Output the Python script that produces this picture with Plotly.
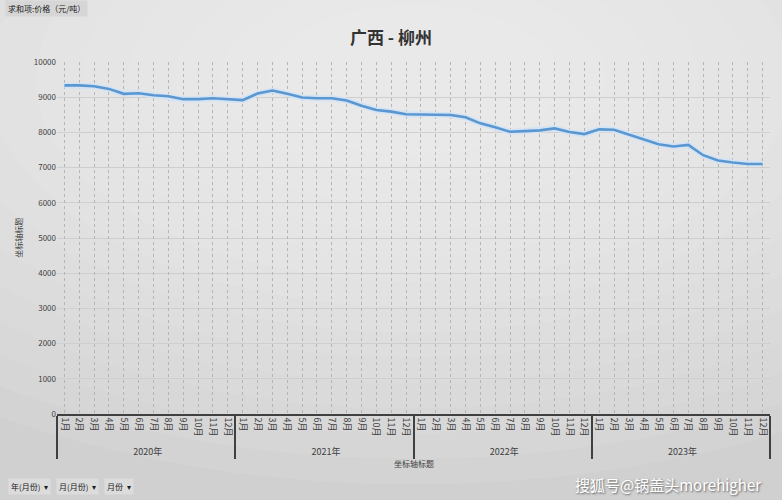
import plotly.graph_objects as go

years = ["2020年", "2021年", "2022年", "2023年"]
months = ["1月", "2月", "3月", "4月", "5月", "6月", "7月", "8月", "9月", "10月", "11月", "12月"]
price_2020 = [9337, 9337, 9309, 9236, 9096, 9112, 9056, 9028, 8944, 8944, 8972, 8935]
price_2021 = [8916, 9104, 9188, 9096, 8992, 8972, 8972, 8907, 8758, 8635, 8590, 8515]
price_2022 = [8514, 8514, 8494, 8428, 8257, 8143, 8018, 8037, 8057, 8114, 8009, 7952]
price_2023 = [8086, 8076, 7943, 7818, 7666, 7600, 7646, 7352, 7200, 7143, 7103, 7103]
y_ticks = [0, 1000, 2000, 3000, 4000, 5000, 6000, 7000, 8000, 9000, 10000]

title_text = "广西 - 柳州"
axis_title = "坐标轴标题"
field_button = "求和项:价格（元/吨）"
filter_buttons = ["年(月份)  ▾", "月(月份)  ▾", "月份  ▾"]
watermark = "搜狐号@锅盖头morehigher"

series = price_2020 + price_2021 + price_2022 + price_2023
x_years = [y for y in years for _ in months]
x_months = [m for _ in years for m in months]
n_points = len(series)
point_index = list(range(n_points))

FONT = "Noto Sans CJK SC, Microsoft YaHei, sans-serif"

fig = go.Figure()
fig.add_trace(go.Scatter(
    x=[x_years, x_months], y=series, mode="lines",
    line=dict(color="#d3e3f4", width=6), hoverinfo="skip", showlegend=False,
))
fig.add_trace(go.Scatter(
    x=[x_years, x_months], y=series, mode="lines",
    line=dict(color="#5a97d0", width=2.6), showlegend=False,
))

# background gradient (light top-centre fading to grey edges)
shapes = []
n = 14
for i in range(n):
    rx = 1.05 - i * 0.065
    ry = 1.15 - i * 0.072
    shapes.append(dict(
        type="circle", xref="paper", yref="paper", layer="below",
        x0=0.5 - rx, x1=0.5 + rx, y0=0.95 - ry, y1=0.95 + ry,
        fillcolor="white", opacity=0.07, line=dict(width=0),
    ))

annotations = [
    dict(text=axis_title, xref="paper", yref="paper", x=-0.055, y=0.5,
         xanchor="center", yanchor="middle", textangle=-90, showarrow=False,
         font=dict(size=8, color="#404040")),
    dict(text=axis_title, xref="paper", yref="paper", x=0.5, y=-0.141,
         xanchor="center", yanchor="middle", showarrow=False,
         font=dict(size=8, color="#404040")),
    dict(text=field_button, xref="paper", yref="paper", x=-0.073, y=1.152,
         xanchor="left", yanchor="middle", showarrow=False,
         bgcolor="#d6d6d6", borderpad=2, font=dict(size=8, color="#202020")),
    dict(text=watermark, xref="paper", yref="paper", x=0.99, y=-0.2,
         xanchor="right", yanchor="middle", showarrow=False,
         font=dict(size=15, color="white", shadow="1px 1px 2px #606060")),
]
bx = [-0.069, -0.002, 0.066]
for t, xx in zip(filter_buttons, bx):
    annotations.append(dict(
        text=t, xref="paper", yref="paper", x=xx, y=-0.206,
        xanchor="left", yanchor="middle", showarrow=False,
        bgcolor="#dcdcdc", borderpad=2, font=dict(size=8, color="#202020")))

fig.update_layout(
    width=782, height=500,
    margin=dict(l=57, r=12, t=62, b=86),
    paper_bgcolor="#d0d0d0", plot_bgcolor="rgba(0,0,0,0)",
    font=dict(family=FONT, color="#595959"),
    title=dict(text="<b>" + title_text + "</b>", x=0.5, xanchor="center",
               y=0.924, yanchor="middle",
               font=dict(size=17, color="#333333", family=FONT)),
    shapes=shapes, annotations=annotations,
    xaxis=dict(
        type="multicategory", tickangle=90, tickfont=dict(size=9, color="#404040"),
        range=[-0.5, n_points - 0.5],
        showgrid=False,
        showline=True, linecolor="#404040", linewidth=1.5,
        showdividers=True, dividercolor="#404040", dividerwidth=1.5,
        ticks="", automargin=False, mirror=False, fixedrange=True,
    ),
    # helper axis that only draws the dotted vertical gridlines at each month centre
    xaxis2=dict(
        overlaying="x", side="bottom", type="linear",
        range=[-0.5, n_points - 0.5], tickvals=point_index,
        showticklabels=False, ticks="", showline=False, zeroline=False,
        showgrid=True, gridcolor="#b5b5b5", griddash="dot", gridwidth=1,
        automargin=False, fixedrange=True, layer="below traces",
    ),
    yaxis=dict(
        range=[0, 10000], tickvals=y_ticks, tickformat="d",
        tickfont=dict(size=8, color="#404040"),
        showgrid=True, gridcolor="#cfcfcf", gridwidth=1, zeroline=False,
        showline=False, ticks="", automargin=False, fixedrange=True,
    ),
)
# invisible trace to activate the helper axis
fig.add_trace(go.Scatter(x=point_index, y=series, xaxis="x2", mode="lines",
                         line=dict(width=0), opacity=0, hoverinfo="skip",
                         showlegend=False))

fig.write_html("out.html", config={"displayModeBar": False},
               post_script="document.body.style.margin='0px';")
